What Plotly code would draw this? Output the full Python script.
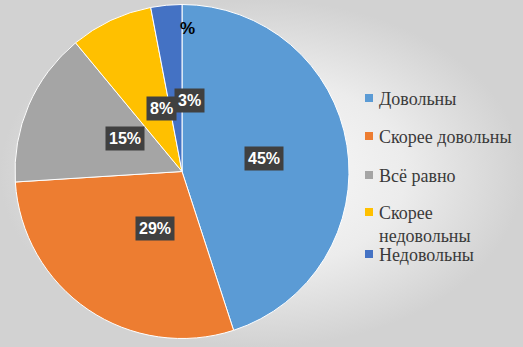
import math
import plotly.graph_objects as go

# Survey answers and their shares, %
categories = ["Довольны", "Скорее довольны", "Всё равно", "Скорее недовольны", "Недовольны"]
shares = [45, 29, 15, 8, 3]
legend_lines = ["Довольны", "Скорее довольны", "Всё равно", "Скорее<br>недовольны", "Недовольны"]
colors = ["#5B9BD5", "#ED7D31", "#A5A5A5", "#FFC000", "#4472C4"]
title_text = "%"

W, H = 523, 347
CX, CY, R = 182, 171.5, 167  # pie centre and radius in pixels


def to_paper(px, py):
    return px / W, 1 - py / H


fig = go.Figure()

# soft radial backdrop
fig.add_trace(go.Scatter(
    x=[0, 1, 1, 0, 0], y=[0, 0, 1, 1, 0], mode="lines", fill="toself",
    line=dict(width=0), hoverinfo="skip", showlegend=False,
    fillgradient=dict(type="radial", colorscale=[[0, "#fafafa"], [0.55, "#ececec"], [1, "#d2d2d2"]]),
))

fig.add_trace(go.Pie(
    labels=categories, values=shares, sort=False, direction="clockwise", rotation=0,
    marker=dict(colors=colors, line=dict(color="#ffffff", width=1)),
    textinfo="none", showlegend=False,
    domain=dict(x=[(CX - R) / W, (CX + R) / W], y=[1 - (CY + R) / H, 1 - (CY - R) / H]),
))

annotations = []
# data labels in dark boxes, halfway along each slice's middle angle
total = sum(shares)
cum = 0
for v in shares:
    mid = (cum + v / 2) / total
    cum += v
    th = 2 * math.pi * mid
    px = CX + 0.5 * R * math.sin(th)
    py = CY - 0.5 * R * math.cos(th)
    x, y = to_paper(px, py)
    annotations.append(dict(
        x=x, y=y, xref="paper", yref="paper", text=f"<b>{v}%</b>", showarrow=False,
        font=dict(family="Liberation Sans", size=16, color="#ffffff"),
        bgcolor="#404040", borderpad=3,
    ))

# chart title (only the percent sign shows)
tx, ty = to_paper(187, 17)
annotations.append(dict(
    x=tx, y=ty, xref="paper", yref="paper", text=f"<b>{title_text}</b>", showarrow=False,
    font=dict(family="Liberation Sans", size=17, color="#000000"),
))

# legend
shapes = [dict(type="rect", xref="paper", yref="paper",
               x0=362 / W, x1=519 / W, y0=1 - 280 / H, y1=1 - 88 / H,
               fillcolor="rgba(255,255,255,0.45)", line=dict(width=0), layer="below")]
legend_y = [98, 136, 175, 212, 254]
for name, col, ly in zip(legend_lines, colors, legend_y):
    x0, y0 = to_paper(365, ly - 4)
    x1, y1 = to_paper(373, ly + 4)
    shapes.append(dict(type="rect", xref="paper", yref="paper", x0=x0, x1=x1, y0=y1, y1=y0,
                       fillcolor=col, line=dict(width=0)))
    ax, ay = to_paper(377, ly - 11)
    annotations.append(dict(
        x=ax, y=ay, xref="paper", yref="paper", text=name, showarrow=False,
        xanchor="left", yanchor="top", align="left",
        font=dict(family="Liberation Serif", size=18, color="#3a3a3a"),
    ))

fig.update_layout(
    width=W, height=H, margin=dict(l=0, r=0, t=0, b=0),
    paper_bgcolor="#e6e6e6", plot_bgcolor="rgba(0,0,0,0)",
    xaxis=dict(visible=False, range=[0, 1], domain=[0, 1], fixedrange=True),
    yaxis=dict(visible=False, range=[0, 1], domain=[0, 1], fixedrange=True),
    annotations=annotations, shapes=shapes, showlegend=False,
)

fig.write_html("out.html")
